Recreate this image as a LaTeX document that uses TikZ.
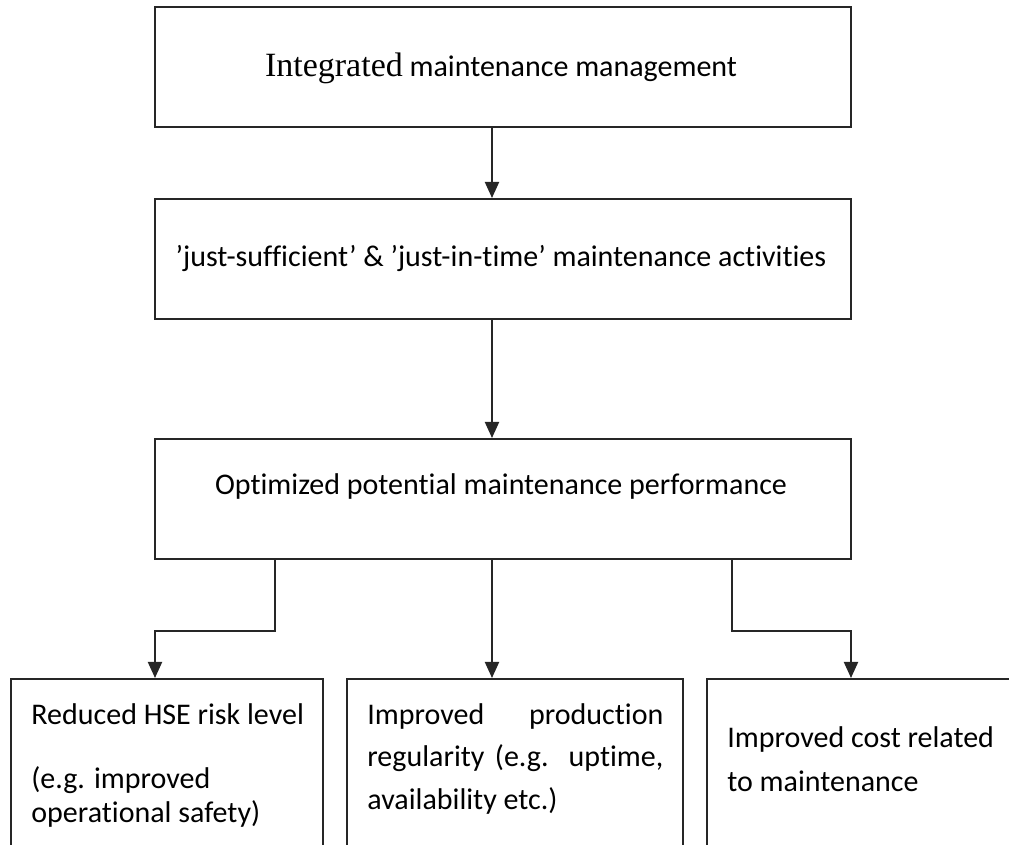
\documentclass[tikz,border=0pt]{standalone}
\usepackage{fontspec}
\setmainfont{Carlito}[Ligatures=NoCommon]
\newfontfamily\titleserif{Liberation Serif}
\usetikzlibrary{arrows.meta}
\begin{document}
\begin{tikzpicture}[x=0.5pt,y=-0.5pt,
  box/.style={draw=black!85, line width=1pt, minimum width=348pt, minimum height=60pt, inner sep=0pt},
  leaf/.style={draw=black!85, line width=1pt, minimum height=110.5pt, inner sep=0pt},
  link/.style={draw=black!85, line width=1pt, -{Triangle[width=7pt,length=8pt]}},
  txt/.style={font=\fontsize{15pt}{18pt}\selectfont, inner sep=0pt, anchor=base},
  lbl/.style={font=\fontsize{15pt}{18pt}\selectfont, inner sep=0pt, anchor=base west},
]
\useasboundingbox (0,0) rectangle (1009,845);

% main chain of boxes
\node[box] (top) at (503,67) {};
\node[box] (mid) at (503,259) {};
\node[box] (perf) at (503,499) {};

\node[txt] (topT) at (501,77) {{\titleserif\fontsize{17pt}{18pt}\selectfont Integrated} maintenance management};
\node[txt] (midT) at (501,267) {’just-sufficient’ \& ’just-in-time’ maintenance activities};
\node[txt] (perfT) at (501,495) {Optimized potential maintenance performance};

% outcome boxes (open towards the bottom and right edges)
\node[leaf, minimum width=156pt] (hse) at (167,789.5) {};
\node[leaf, minimum width=168pt] (prod) at (515,789.5) {};
\node[leaf, minimum width=250pt] (cost) at (957,789.5) {};

\node[lbl] (hse1) at (31,725) {Reduced HSE risk level};
\node[lbl] (hse2) at (31,789) {(e.g. improved};
\node[lbl] (hse3) at (31,823) {operational safety)};

\node[lbl] (prod1) at (367,725) {\makebox[148pt][s]{Improved production}};
\node[lbl] (prod2) at (367,767) {\makebox[148pt][s]{regularity (e.g. uptime,}};
\node[lbl] (prod3) at (367,810) {availability etc.)};

\node[lbl] (cost1) at (727,748) {Improved cost related};
\node[lbl] (cost2) at (727,792) {to maintenance};

% connector bend points
\coordinate (lsplit) at (275,559);
\coordinate (rsplit) at (732,559);

\draw[link] (top.south -| 492,0) -- (mid.north -| 492,0);
\draw[link] (mid.south -| 492,0) -- (perf.north -| 492,0);
\draw[link] (perf.south -| 492,0) -- (prod.north -| 492,0);
\draw[link] (lsplit) -- (275,631) -- (155,631) -- (hse.north -| 155,0);
\draw[link] (rsplit) -- (732,631) -- (851,631) -- (cost.north -| 851,0);
\end{tikzpicture}
\end{document}
